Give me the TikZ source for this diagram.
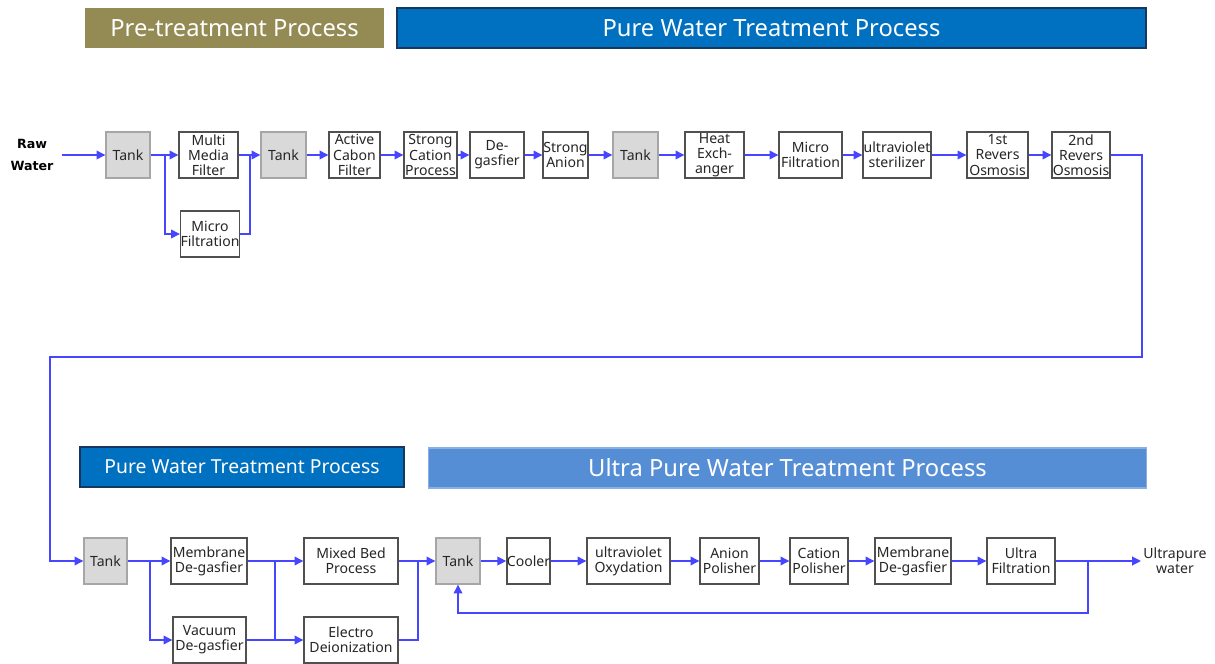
\documentclass[tikz,border=0pt]{standalone}
\usepackage{fontspec}
\setmainfont{Noto Sans}
\newfontfamily\rawfont{DejaVu Sans}
\usetikzlibrary{arrows.meta, positioning, calc}
\definecolor{cflow}{HTML}{4646FF}
\definecolor{cbox}{HTML}{505050}
\definecolor{ctank}{HTML}{D9D9D9}
\definecolor{colive}{HTML}{948A54}
\definecolor{cpure}{HTML}{0070C0}
\definecolor{cnavy}{HTML}{17375E}
\definecolor{cultra}{HTML}{558ED5}
\tikzset{
  every picture/.style={font=\fontsize{8}{8.6}\selectfont, line width=0.8pt},
  unit/.style={draw=cbox, fill=white, align=center, inner sep=0pt, minimum height=0.92cm, text=black!85},
  tank/.style={unit, draw=black!35, fill=ctank},
  flow/.style={-{Triangle[length=5pt,width=5pt]}, draw=cflow, line width=0.7pt},
  pipe/.style={draw=cflow, line width=0.7pt},
  banner/.style={fill=#1, text=white, minimum height=0.8cm, inner sep=0pt},
}

\begin{document}
\begin{tikzpicture}
  \useasboundingbox (0, 0) rectangle (24.3, -13.28);
  % headings
  \node[banner=colive, minimum width=5.98cm, font=\fontsize{13.5}{14}\selectfont] (hpre) at (4.69, -0.56) {Pre-treatment Process};
  \node[banner=cpure, draw=cnavy, line width=1.2pt, minimum width=14.98cm, font=\fontsize{13.5}{14}\selectfont] (hpure) at (15.43, -0.56) {Pure Water Treatment Process};
  \node[banner=cpure, draw=cnavy, line width=1.2pt, minimum width=6.48cm, font=\fontsize{11}{12}\selectfont] (hpure2) at (4.84, -9.34) {Pure Water Treatment Process};
  \node[banner=cultra, draw=cultra!70, line width=1pt, minimum width=14.36cm, font=\fontsize{13.5}{14}\selectfont] (hultra) at (15.75, -9.36) {Ultra Pure Water Treatment Process};

  % pure water line
  \node[font=\rawfont\fontsize{7.2}{13}\selectfont\bfseries, align=center] (raw) at (0.64, -3.1) {Raw\\Water};
  \node[tank, minimum width=0.88cm] (tank1) at (2.56, -3.1) {Tank};
  \node[unit, minimum width=1.18cm] (mmf) at (4.17, -3.1) {Multi\\Media\\Filter};
  \node[unit, minimum width=1.16cm] (mf1) at (4.2, -4.68) {Micro\\Filtration};
  \node[tank, minimum width=0.9cm] (tank2) at (5.67, -3.1) {Tank};
  \node[unit, minimum width=1.02cm] (acf) at (7.09, -3.1) {Active\\Cabon\\Filter};
  \node[unit, minimum width=1.06cm] (scp) at (8.61, -3.1) {Strong\\Cation\\Process};
  \node[unit, minimum width=1.08cm] (dg) at (9.94, -3.1) {De-\\gasfier};
  \node[unit, minimum width=0.9cm] (sa) at (11.31, -3.1) {Strong\\Anion};
  \node[tank, minimum width=0.9cm] (tank3) at (12.71, -3.1) {Tank};
  \node[unit, minimum width=1.18cm] (hx) at (14.29, -3.1) {Heat\\Exch-\\anger};
  \node[unit, minimum width=1.26cm] (mf2) at (16.21, -3.1) {Micro\\Filtration};
  \node[unit, minimum width=1.36cm] (uvs) at (17.94, -3.1) {ultraviolet\\sterilizer};
  \node[unit, minimum width=1.22cm] (ro1) at (19.95, -3.1) {1st\\Revers\\Osmosis};
  \node[unit, minimum width=1.16cm] (ro2) at (21.62, -3.1) {2nd\\Revers\\Osmosis};

  % lower line
  \node[tank, minimum width=0.86cm] (tank4) at (2.11, -11.22) {Tank};
  \node[unit, minimum width=1.52cm] (md1) at (4.18, -11.22) {Membrane\\De-gasfier};
  \node[unit, minimum width=1.46cm] (vd) at (4.19, -12.8) {Vacuum\\De-gasfier};
  \node[unit, minimum width=1.88cm] (mb) at (7.02, -11.22) {Mixed Bed\\Process};
  \node[unit, minimum width=1.88cm] (edi) at (7.02, -12.8) {Electro\\Deionization};
  \node[tank, minimum width=0.88cm] (tank5) at (9.16, -11.22) {Tank};
  \node[unit, minimum width=0.86cm] (cool) at (10.57, -11.22) {Cooler};
  \node[unit, minimum width=1.66cm] (uvo) at (12.57, -11.22) {ultraviolet\\Oxydation};
  \node[unit, minimum width=1.18cm] (ap) at (14.59, -11.22) {Anion\\Polisher};
  \node[unit, minimum width=1.16cm] (cp) at (16.38, -11.22) {Cation\\Polisher};
  \node[unit, minimum width=1.52cm] (md2) at (18.26, -11.22) {Membrane\\De-gasfier};
  \node[unit, minimum width=1.36cm] (uf) at (20.42, -11.22) {Ultra\\Filtration};
  \node[align=center, inner sep=1pt, text=black!85] (out) at (23.5, -11.22) {Ultrapure\\water};

  % junctions
  \coordinate (rawin) at (1.24, -3.1);
  \coordinate (s1) at (3.3, -3.1);
  \coordinate (j1) at (5.0, -3.1);
  \coordinate (turnA) at (22.84, -7.14);
  \coordinate (turnB) at (1.0, -7.14);
  \coordinate (s2) at (3.0, -11.22);
  \coordinate (j2) at (5.5, -11.22);
  \coordinate (j3) at (8.36, -11.22);
  \coordinate (fb) at (21.76, -12.26);

  % flows
  \draw[flow] (rawin) -- (tank1.west);
  \draw[flow] (tank1.east) -- (mmf.west);
  \draw[flow] (s1) |- (mf1.west);
  \draw[pipe] (mmf.east) -- (j1);
  \draw[pipe] (mf1.east) -| (j1);
  \draw[flow] (j1) -- (tank2.west);
  \draw[flow] (tank2.east) -- (acf.west);
  \draw[flow] (acf.east) -- (scp.west);
  \draw[flow] (scp.east) -- (dg.west);
  \draw[flow] (dg.east) -- (sa.west);
  \draw[flow] (sa.east) -- (tank3.west);
  \draw[flow] (tank3.east) -- (hx.west);
  \draw[flow] (hx.east) -- (mf2.west);
  \draw[flow] (mf2.east) -- (uvs.west);
  \draw[flow] (uvs.east) -- (ro1.west);
  \draw[flow] (ro1.east) -- (ro2.west);
  \draw[flow] (ro2.east) -| (turnA) -- (turnB) |- (tank4.west);

  \draw[flow] (tank4.east) -- (md1.west);
  \draw[flow] (s2) |- (vd.west);
  \draw[flow] (md1.east) -- (mb.west);
  \draw[pipe] (vd.east) -| (j2);
  \draw[flow] (j2) |- (edi.west);
  \draw[pipe] (mb.east) -- (j3);
  \draw[pipe] (edi.east) -| (j3);
  \draw[flow] (j3) -- (tank5.west);
  \draw[flow] (tank5.east) -- (cool.west);
  \draw[flow] (cool.east) -- (uvo.west);
  \draw[flow] (uvo.east) -- (ap.west);
  \draw[flow] (ap.east) -- (cp.west);
  \draw[flow] (cp.east) -- (md2.west);
  \draw[flow] (md2.east) -- (uf.west);
  \draw[flow] (uf.east) -- (out.west);
  \draw[flow] (fb |- uf.east) -- (fb) -| (tank5.south);
\end{tikzpicture}
\end{document}
